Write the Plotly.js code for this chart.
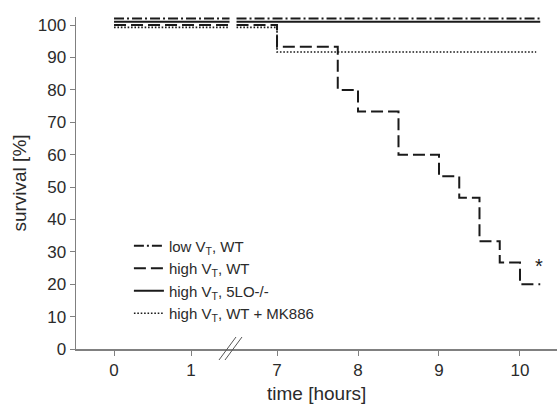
<!DOCTYPE html>
<html>
<head>
<meta charset="utf-8">
<script src="https://cdn.plot.ly/plotly-3.0.1.min.js"></script>
<style>html,body{margin:0;padding:0;background:#fff}#chart{width:560px;height:406px}</style>
</head>
<body>
<div id="chart"></div>
<script>
// ---- data (time in hours, survival in %) ----
// early segment (0 - 1.5 h) and late segment (6.5 - 10.25 h) of a broken time axis
var earlyTime = [0, 1.5];

var lowWT_early = [102, 102];
var lowWT_time = [6.5, 10.25];
var lowWT_surv = [102, 102];

var highWT_early = [100, 100];
var highWT_time = [6.5, 7, 7.75, 8, 8.5, 9, 9.25, 9.5, 9.75, 10, 10.25];
var highWT_surv = [100, 93.3, 80, 73.3, 60, 53.3, 46.7, 33.3, 26.7, 20, 20];

var high5LO_early = [101, 101];
var high5LO_time = [6.5, 10.25];
var high5LO_surv = [101, 101];

var highMK_early = [99.3, 99.3];
var highMK_time = [6.5, 7, 10.2];
var highMK_surv = [99.3, 91.7, 91.7];

var seriesNames = ['low V<sub>T</sub>, WT', 'high V<sub>T</sub>, WT', 'high V<sub>T</sub>, 5LO-/-', 'high V<sub>T</sub>, WT + MK886'];
var earlyTicks = [0, 1];
var lateTicks = [7, 8, 9, 10];

// ---- styles ----
var ink = '#1a1a1a';
var styles = [
  {color: ink, width: 2, dash: '10px,3px,2px,3px'},
  {color: ink, width: 2, dash: '12px,5px'},
  {color: ink, width: 2, dash: 'solid'},
  {color: ink, width: 1.6, dash: '1.6px,1.8px'}
];
var early = [lowWT_early, highWT_early, high5LO_early, highMK_early];
var lateT = [lowWT_time, highWT_time, high5LO_time, highMK_time];
var lateS = [lowWT_surv, highWT_surv, high5LO_surv, highMK_surv];

var traces = [];
for (var i = 0; i < 4; i++) {
  traces.push({
    x: earlyTime, y: early[i], xaxis: 'x', yaxis: 'y',
    mode: 'lines', line: Object.assign({shape: 'hv'}, styles[i]),
    showlegend: false, hoverinfo: 'skip', legendgroup: 'g' + i
  });
}
for (var j = 0; j < 4; j++) {
  traces.push({
    x: lateT[j], y: lateS[j], xaxis: 'x2', yaxis: 'y',
    mode: 'lines', line: Object.assign({shape: 'hv'}, styles[j]),
    name: seriesNames[j], legendgroup: 'g' + j
  });
}

var axisGray = '#808080';
var txt = '#2b2b2b';
var fnt = 'Liberation Sans, Arial, sans-serif';
var brk = 0.3243;
var tickFont = {family: fnt, size: 17, color: txt};

var layout = {
  width: 560, height: 406,
  margin: {l: 76, r: 3, t: 17, b: 57},
  paper_bgcolor: '#fff', plot_bgcolor: '#fff',
  font: {family: fnt, size: 15, color: txt},
  showlegend: true,
  legend: {
    x: 0.11, y: 0.36, xanchor: 'left', yanchor: 'top',
    bgcolor: 'rgba(0,0,0,0)', font: {family: fnt, size: 15, color: txt},
    tracegroupgap: 0
  },
  xaxis: {
    domain: [0, brk], range: [-0.494, 1.532],
    tickmode: 'array', tickvals: earlyTicks, ticktext: earlyTicks.map(String),
    showline: true, linecolor: axisGray, linewidth: 1.5, tickfont: tickFont,
    ticks: 'outside', ticklen: 5, tickcolor: axisGray, tickwidth: 1,
    showgrid: false, zeroline: false, anchor: 'y', fixedrange: true
  },
  xaxis2: {
    domain: [brk, 1], range: [6.444, 10.457],
    tickmode: 'array', tickvals: lateTicks, ticktext: lateTicks.map(String),
    showline: true, linecolor: axisGray, linewidth: 1.5, tickfont: tickFont,
    ticks: 'outside', ticklen: 5, tickcolor: axisGray, tickwidth: 1,
    showgrid: false, zeroline: false, anchor: 'y', fixedrange: true
  },
  yaxis: {
    range: [0, 102.5], tickmode: 'linear', tick0: 0, dtick: 10,
    showline: true, linecolor: axisGray, linewidth: 1.5, tickfont: tickFont,
    ticks: 'outside', ticklen: 5, tickcolor: axisGray, tickwidth: 1,
    showgrid: false, zeroline: false, fixedrange: true,
    title: {text: 'survival [%]', font: {family: fnt, size: 19, color: txt}, standoff: 6}
  },
  annotations: [
    {text: 'time [hours]', xref: 'paper', yref: 'paper', x: 0.5, y: -0.133,
     xanchor: 'center', yanchor: 'middle', showarrow: false,
     font: {family: fnt, size: 19, color: txt}},
    {text: '*', xref: 'x2', yref: 'y', x: 10.23, y: 25.5,
     xanchor: 'center', yanchor: 'middle', showarrow: false,
     font: {family: fnt, size: 20, color: ink}}
  ],
  shapes: [
    {type: 'line', xref: 'paper', yref: 'paper', xsizemode: 'pixel', ysizemode: 'pixel',
     xanchor: brk, yanchor: 0, x0: -13, y0: -11, x1: 4, y1: 12,
     line: {color: '#555', width: 1}},
    {type: 'line', xref: 'paper', yref: 'paper', xsizemode: 'pixel', ysizemode: 'pixel',
     xanchor: brk, yanchor: 0, x0: -7, y0: -11, x1: 10, y1: 12,
     line: {color: '#555', width: 1}}
  ]
};

Plotly.newPlot('chart', traces, layout, {displayModeBar: false, staticPlot: true});
</script>
</body>
</html>
